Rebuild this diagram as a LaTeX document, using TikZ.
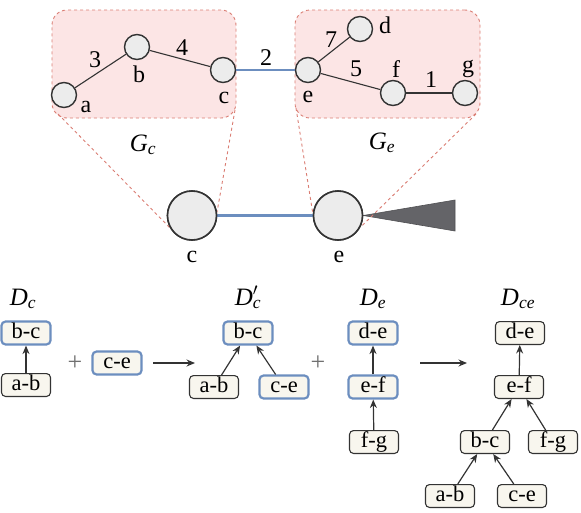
\documentclass[tikz,border=0pt]{standalone}
\usepackage{fontspec}
\setmainfont{Liberation Serif}
\usetikzlibrary{arrows.meta}
\definecolor{pinkfill}{RGB}{252,229,229}
\definecolor{pinkdash}{RGB}{218,125,115}
\definecolor{circfill}{RGB}{236,236,236}
\definecolor{dk}{RGB}{51,51,51}
\definecolor{blueln}{RGB}{108,142,191}
\definecolor{boxfill}{RGB}{248,246,238}
\definecolor{trifill}{RGB}{100,100,104}
\newcommand\isub[2]{\textit{#1}\textsubscript{\textit{#2}}}
\begin{document}
\begin{tikzpicture}[x=1pt,y=-1pt,
  pinkbox/.style={draw=pinkdash, dashed, line width=0.9pt, fill=pinkfill, rounded corners=15pt, inner sep=0},
  zoomln/.style={draw=pinkdash, dashed, line width=0.9pt},
  gnode/.style={circle, draw=dk, fill=circfill, line width=1.4pt, minimum size=25pt, inner sep=0},
  bignode/.style={circle, draw=dk, fill=circfill, line width=1.6pt, minimum size=49pt, inner sep=0},
  glab/.style={font=\fontsize{24}{24}\selectfont, anchor=base, inner sep=0},
  ttl/.style={font=\fontsize{25}{25}\selectfont, anchor=base, inner sep=0},
  gedge/.style={draw=dk, line width=1.1pt},
  bedge/.style={draw=blueln, line width=2.6pt},
  tbox/.style={draw=dk, line width=1.1pt, fill=boxfill, rounded corners=4pt, font=\fontsize{22.5}{22.5}\selectfont, inner xsep=2pt, inner ysep=1.2pt, text height=15.5pt, text depth=5pt, minimum width=49pt},
  bbox/.style={tbox, draw=blueln, line width=2.2pt},
  arr/.style={-{Stealth[length=8.5pt,width=7pt]}, draw=dk, line width=1.2pt},
  plus/.style={font=\fontsize{26}{26}\selectfont, text=dk!70, inner sep=0}]
\useasboundingbox (0,0) rectangle (581,512);

% pink regions
\node[pinkbox, minimum width=184pt, minimum height=108pt] (GL) at (144,64) {};
\node[pinkbox, minimum width=185pt, minimum height=108pt] (GR) at (387.5,64) {};

% big circles (contracted graph)
\node[bignode] (bc) at (192,215.5) {};
\node[bignode] (be) at (338,215.5) {};
\fill[trifill, draw=trifill!80!black, line width=0.6pt] (be.east) -- (455,200) -- (455,231) -- cycle;

% zoom lines
\coordinate (z1) at (58,114);
\coordinate (z2) at (235,110);
\coordinate (z3) at (296,108);
\coordinate (z4) at (476,114);
\draw[zoomln] (z1) -- (bc.209);
\draw[zoomln] (z2) -- (bc.8);
\draw[zoomln] (z3) -- (be.175);
\draw[zoomln] (z4) -- (be.-28);
\draw[bedge] (bc) -- (be);
\node[bignode] at (bc) {};
\node[bignode] at (be) {};
\node[glab] (lbc) at (192,262) {c};
\node[glab] (lbe) at (339,262) {e};

% graph G_c
\node[gnode] (ga) at (64,95) {};
\node[gnode] (gb) at (137,47) {};
\node[gnode] (gc) at (223,70) {};
% graph G_e
\node[gnode] (ge) at (308,70) {};
\node[gnode] (gd) at (360,29) {};
\node[gnode] (gf) at (393,93) {};
\node[gnode] (gg) at (465,93) {};

\draw[gedge] (ga) -- (gb);
\draw[gedge] (gb) -- (gc);
\draw[bedge] (gc) -- (ge);
\draw[gedge] (ge) -- (gd);
\draw[gedge] (ge) -- (gf);
\draw[gedge] (gf) -- (gg);

\node[glab] (la) at (86,112) {a};
\node[glab] (lb) at (139,82) {b};
\node[glab] (lc) at (224,103) {c};
\node[glab] (ld) at (385,33) {d};
\node[glab] (le) at (308,102) {e};
\node[glab] (lf) at (396,77) {f};
\node[glab] (lg) at (468,72) {g};

\node[glab] (w3) at (95,67) {3};
\node[glab] (w4) at (182,55) {4};
\node[glab] (w2) at (266,65) {2};
\node[glab] (w7) at (331,47) {7};
\node[glab] (w5) at (356,76) {5};
\node[glab] (w1) at (431,87) {1};

\node[ttl] (tgc) at (143,151) {\isub{G}{c}};
\node[ttl] (tge) at (382,149) {\isub{G}{e}};

% D_c
\node[ttl] (tdc) at (23,305) {\isub{D}{c}};
\node[bbox] (dcbc) at (26,333) {b-c};
\node[tbox] (dcab) at (26,385) {a-b};
\draw[arr] (dcab) -- (dcbc);

\node[plus] (p1) at (75,363) {+};
\node[bbox] (ce1) at (117,363) {c-e};
\coordinate (a1s) at (153,363);
\coordinate (a1e) at (195,363);
\draw[arr] (a1s) -- (a1e);

% D'_c
\node[ttl] (tdcp) at (248,305) {\textit{D}\rlap{\textsuperscript{$\prime$}}\textsubscript{\textit{c}}};
\node[bbox] (dpbc) at (248,333) {b-c};
\node[tbox] (dpab) at (214,387) {a-b};
\node[bbox] (dpce) at (284,387) {c-e};
\draw[arr] (dpab) -- (dpbc);
\draw[arr] (dpce) -- (dpbc);

\node[plus] (p2) at (318,363) {+};

% D_e
\node[ttl] (tde) at (373,305) {\isub{D}{e}};
\node[bbox] (dede) at (373,333) {d-e};
\node[bbox] (deef) at (373,387) {e-f};
\node[tbox] (defg) at (374,442) {f-g};
\draw[arr] (deef) -- (dede);
\draw[arr] (defg) -- (deef);

\coordinate (a2s) at (420,363);
\coordinate (a2e) at (467,363);
\draw[arr] (a2s) -- (a2e);

% D_ce
\node[ttl] (tdce) at (518,305) {\isub{D}{ce}};
\node[tbox] (xde) at (520,333) {d-e};
\node[tbox] (xef) at (519,387) {e-f};
\node[tbox] (xbc) at (485,442) {b-c};
\node[tbox] (xfg) at (553,442) {f-g};
\node[tbox] (xab) at (450,496) {a-b};
\node[tbox] (xce) at (522,496) {c-e};
\draw[arr] (xef) -- (xde);
\draw[arr] (xbc) -- (xef);
\draw[arr] (xfg) -- (xef);
\draw[arr] (xab) -- (xbc);
\draw[arr] (xce) -- (xbc);
\end{tikzpicture}
\end{document}
